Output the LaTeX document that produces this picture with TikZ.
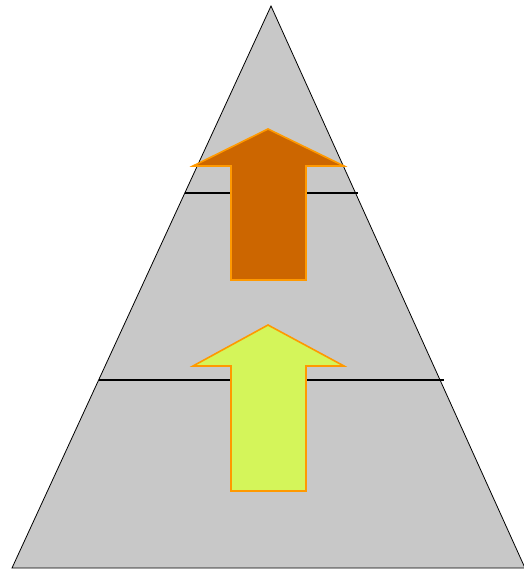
\documentclass[tikz,border=0pt]{standalone}
\definecolor{tri}{HTML}{C8C8C8}
\definecolor{arrowdark}{HTML}{CC6600}
\definecolor{arrowlight}{HTML}{D4F55A}
\definecolor{arrowedge}{HTML}{FF9900}
\begin{document}
\begin{tikzpicture}[x=1pt,y=-1pt,
  level/.style={draw=black,line width=1.2pt},
  bigarrow/.style={draw=arrowedge,line width=1.6pt,line join=miter}]
\useasboundingbox (0,0) rectangle (523,570);
\coordinate (apex) at (271,6);
\coordinate (bl) at (12,568);
\coordinate (br) at (525,568);
\fill[tri] (apex) -- (bl) -- (br) -- cycle;
\draw[line width=0.8pt] (apex) -- (bl) -- (br) -- cycle;
\coordinate (u1) at (185,193);
\coordinate (u2) at (358,193);
\coordinate (l1) at (99,380);
\coordinate (l2) at (444,380);
\draw[level] (u1) -- (u2);
\draw[level] (l1) -- (l2);
\draw[bigarrow,fill=arrowdark] (268,129) -- (344,166) -- (306,166) -- (306,280) -- (231,280) -- (231,166) -- (193,166) -- cycle;
\draw[bigarrow,fill=arrowlight] (268,325) -- (344,366) -- (306,366) -- (306,491) -- (231,491) -- (231,366) -- (193,366) -- cycle;
\end{tikzpicture}
\end{document}
